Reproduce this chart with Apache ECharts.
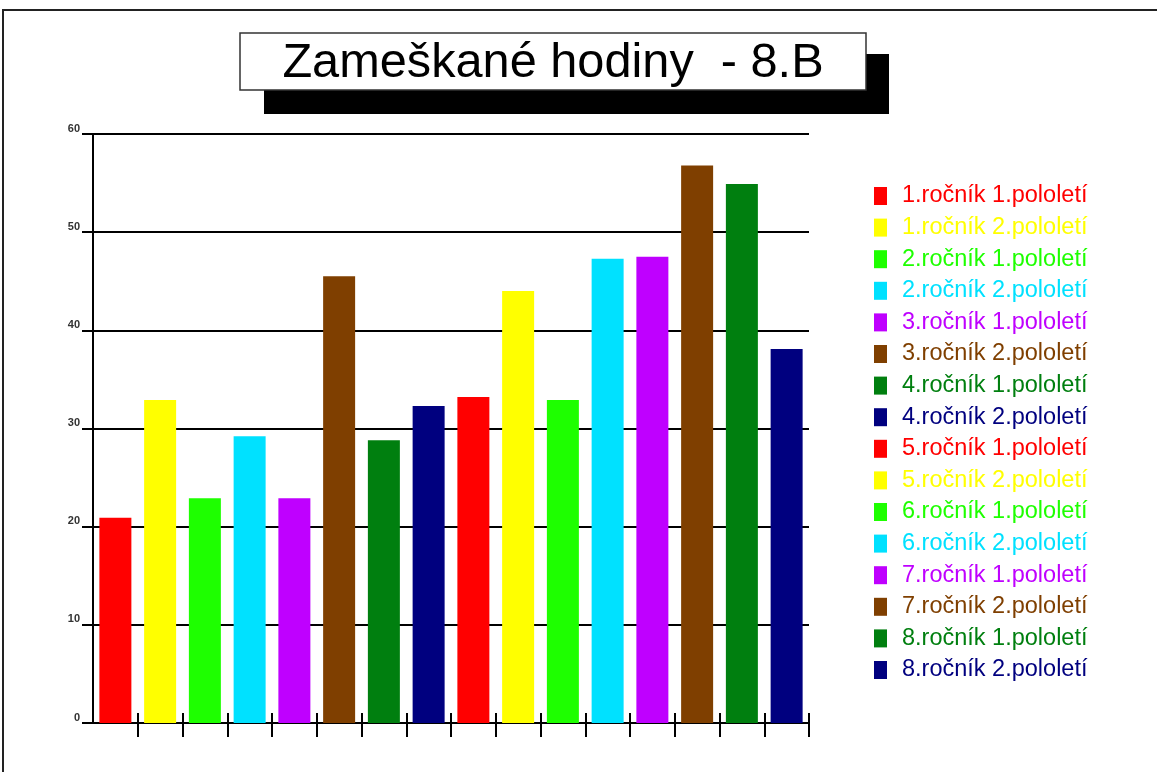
<!DOCTYPE html>
<html>
<head>
<meta charset="utf-8">
<script src="https://cdn.jsdelivr.net/npm/echarts@6/dist/echarts.min.js"></script>
<style>
  html, body { margin: 0; padding: 0; background: #fff; }
  #chart { width: 1157px; height: 772px; }
</style>
</head>
<body>
<div id="chart"></div>
<script>
// Zameškané hodiny – třída 8.B, po ročnících a pololetích
const titleText = 'Zameškané hodiny  - 8.B';

const seriesNames = [
  '1.ročník 1.pololetí', '1.ročník 2.pololetí',
  '2.ročník 1.pololetí', '2.ročník 2.pololetí',
  '3.ročník 1.pololetí', '3.ročník 2.pololetí',
  '4.ročník 1.pololetí', '4.ročník 2.pololetí',
  '5.ročník 1.pololetí', '5.ročník 2.pololetí',
  '6.ročník 1.pololetí', '6.ročník 2.pololetí',
  '7.ročník 1.pololetí', '7.ročník 2.pololetí',
  '8.ročník 1.pololetí', '8.ročník 2.pololetí'
];

const hours = [20.9, 32.9, 22.9, 29.2, 22.9, 45.5, 28.8, 32.3,
               33.2, 44.0, 32.9, 47.3, 47.5, 56.8, 54.9, 38.1];

const yTicks = [0, 10, 20, 30, 40, 50, 60];

const palette = ['#FF0000', '#FFFF00', '#1EFF00', '#00E1FF',
                 '#BF00FF', '#7F3F00', '#007F0F', '#00007F'];

const colorOf = i => palette[i % palette.length];

// one series per legend entry, each occupying its own category slot
const series = seriesNames.map((name, i) => ({
  name,
  type: 'bar',
  stack: 'all',
  barWidth: 32,
  xAxisIndex: 0,
  itemStyle: { color: colorOf(i) },
  data: hours.map((v, j) => (j === i ? v : '-'))
}));

// skip the boundary tick that would sit under the value axis
const skipFirst = (i) => i !== 0;

const chart = echarts.init(document.getElementById('chart'), null, { renderer: 'canvas' });

chart.setOption({
  animation: false,
  backgroundColor: '#ffffff',
  grid: { left: 93, right: 348, top: 134, bottom: 49, containLabel: false },
  xAxis: [
    {
      type: 'category',
      data: seriesNames,
      boundaryGap: true,
      axisLine: { lineStyle: { color: '#000', width: 2 } },
      axisTick: { show: true, interval: skipFirst, length: 14, lineStyle: { color: '#000', width: 2 } },
      axisLabel: { show: false, interval: 0 },
      splitLine: { show: false }
    },
    {
      type: 'category',
      data: seriesNames,
      position: 'bottom',
      boundaryGap: true,
      axisLine: { show: false },
      axisTick: { show: true, interval: skipFirst, inside: true, length: 10, lineStyle: { color: '#000', width: 2 } },
      axisLabel: { show: false, interval: 0 },
      splitLine: { show: false }
    }
  ],
  yAxis: {
    type: 'value',
    min: yTicks[0],
    max: yTicks[yTicks.length - 1],
    interval: 10,
    axisLine: { show: true, lineStyle: { color: '#000', width: 2 } },
    axisTick: { show: true, length: 11, lineStyle: { color: '#000', width: 2 } },
    axisLabel: {
      margin: 13,
      fontSize: 11,
      fontWeight: 'bold',
      fontFamily: 'Liberation Sans, Arial, sans-serif',
      color: '#333',
      verticalAlign: 'bottom'
    },
    splitLine: { show: true, lineStyle: { color: '#000', width: 2 } }
  },
  legend: {
    orient: 'vertical',
    left: 874,
    top: 184,
    padding: 0,
    icon: 'rect',
    itemWidth: 13,
    itemHeight: 18,
    itemGap: 7.6,
    data: seriesNames.map((name, i) => ({
      name,
      textStyle: { color: colorOf(i) }
    })),
    textStyle: {
      fontSize: 23.5,
      fontFamily: 'Liberation Sans, Arial, sans-serif',
      lineHeight: 22,
      padding: [0, 0, 0, 10]
    }
  },
  graphic: [
    // page frame
    {
      type: 'rect', silent: true, z: 0,
      shape: { x: 3, y: 10, width: 1200, height: 800 },
      style: { fill: 'none', stroke: '#222', lineWidth: 2 }
    },
    // title box drop shadow
    {
      type: 'rect', silent: true, z: 10,
      shape: { x: 264, y: 54, width: 625, height: 60 },
      style: { fill: '#000' }
    },
    // title box
    {
      type: 'rect', silent: true, z: 11,
      shape: { x: 240, y: 33, width: 626, height: 57 },
      style: { fill: '#fff', stroke: '#333', lineWidth: 1.5 }
    },
    {
      type: 'text', silent: true, z: 12,
      x: 553, y: 64,
      style: {
        text: titleText,
        fill: '#000',
        fontSize: 48.7,
        fontFamily: 'Liberation Sans, Arial, sans-serif',
        align: 'center',
        verticalAlign: 'middle'
      }
    }
  ],
  series
});
</script>
</body>
</html>
